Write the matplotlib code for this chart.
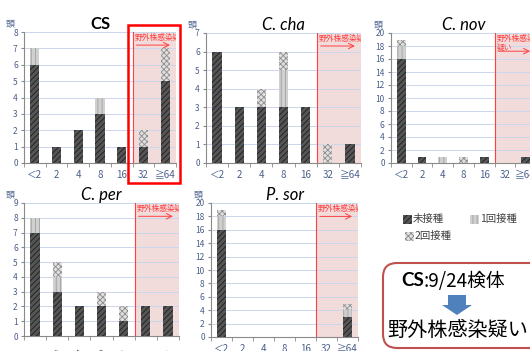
import matplotlib
matplotlib.use("Agg")
import matplotlib.pyplot as plt
from matplotlib.patches import Rectangle, FancyBboxPatch, FancyArrow

plt.rcParams['font.family'] = ['Noto Sans CJK JP', 'DejaVu Sans']
plt.rcParams['hatch.linewidth'] = 0.6

# MIC categories
categories = ['＜2', '2', '4', '8', '16', '32', '≧64']

# head counts per panel: 未接種 / 1回接種 / 2回接種
cs_none = [6, 1, 2, 3, 1, 1, 5]
cs_once = [1, 0, 0, 1, 0, 0, 0]
cs_twice = [0, 0, 0, 0, 0, 1, 2]

cha_none = [6, 3, 3, 3, 3, 0, 1]
cha_once = [0, 0, 0, 2, 0, 0, 0]
cha_twice = [0, 0, 1, 1, 0, 1, 0]

nov_none = [16, 1, 0, 0, 1, 0, 1]
nov_once = [2, 0, 1, 0, 0, 0, 0]
nov_twice = [1, 0, 0, 1, 0, 0, 0]

per_none = [7, 3, 2, 2, 1, 2, 2]
per_once = [1, 1, 0, 0, 0, 0, 0]
per_twice = [0, 1, 0, 1, 1, 0, 0]

sor_none = [16, 0, 0, 0, 0, 0, 3]
sor_once = [2, 0, 0, 0, 0, 0, 1]
sor_twice = [1, 0, 0, 0, 0, 0, 1]

W, H = 530, 351
fig = plt.figure(figsize=(W / 100, H / 100), dpi=100)

tick_col = '#4a5f8a'
red = '#ff4040'
styles = [
    dict(facecolor='#555555', edgecolor='#1e1e1e', hatch='//////'),
    dict(facecolor='#d0d0d0', edgecolor='#a0a0a0', hatch='||||'),
    dict(facecolor='#e0e0e0', edgecolor='#8c8c8c', hatch='xxxxxx'),
]


def px_rect(left, top, right, bottom):
    return [left / W, 1 - bottom / H, (right - left) / W, (bottom - top) / H]


def panel(rect, title, bold, ymax, ystep, series, label_text, cut_labels=False):
    ax = fig.add_axes(px_rect(*rect))
    x = list(range(len(categories)))
    ax.axvspan(4.5, 7, color='#f2dcdb', zorder=0, lw=0)
    ax.axvline(4.5, color=red, lw=0.8, zorder=1)
    bottom = [0] * len(categories)
    for vals, st in zip(series, styles):
        ax.bar(x, vals, 0.42, bottom=bottom, linewidth=0, zorder=3, **st)
        bottom = [b + v for b, v in zip(bottom, vals)]
    ax.set_xlim(-0.5, 6.5)
    ax.set_ylim(0, ymax)
    ax.set_yticks(range(0, ymax + 1, ystep))
    ax.yaxis.grid(True, color='#c9d6ec', lw=0.7, zorder=1)
    ax.set_axisbelow(True)
    for s in ['top', 'right']:
        ax.spines[s].set_visible(False)
    for s in ['left', 'bottom']:
        ax.spines[s].set_color('#8a8a8a')
        ax.spines[s].set_linewidth(0.8)
    ax.set_xticks(x)
    ax.set_xticks([i - 0.5 for i in range(8)], minor=True)
    ax.tick_params(axis='x', which='major', length=0, labelsize=7, labelcolor=tick_col,
                   pad=9 if cut_labels else 5)
    ax.tick_params(axis='x', which='minor', length=3, color='#8a8a8a')
    ax.tick_params(axis='y', length=2.5, color='#8a8a8a', labelsize=6, labelcolor=tick_col, pad=2)
    if cut_labels:
        ax.set_xticklabels(categories, rotation=45, ha='right', va='top', rotation_mode='anchor')
    else:
        ax.set_xticklabels(categories)
    ax.set_title(title, fontsize=12, fontweight='bold' if bold else 'normal',
                 style='normal' if bold else 'italic', family=['Lato', 'DejaVu Sans'], pad=2)
    ax.text(-0.06, 1.03, '頭', transform=ax.transAxes, fontsize=6.5, color=tick_col,
            ha='right', va='bottom')
    tr = ax.get_xaxis_transform()
    ax.text(4.6, 0.985, label_text, transform=tr, fontsize=5.6, color=red,
            ha='left', va='top', clip_on=True, zorder=5, linespacing=1.1)
    ay = 0.86 if '\n' in label_text else 0.9
    ax.annotate('', xy=(6.35, ay), xytext=(4.55, ay), xycoords=tr,
                arrowprops=dict(arrowstyle='->', color=red, lw=0.7), zorder=5)
    return ax


panel((24, 32, 176, 163), 'CS', True, 8, 1, [cs_none, cs_once, cs_twice], '野外株感染疑い')
panel((206, 33, 361, 163), 'C. cha', False, 7, 1, [cha_none, cha_once, cha_twice], '野外株感染疑い')
panel((391, 33, 536, 163), 'C. nov', False, 20, 2, [nov_none, nov_once, nov_twice], '野外株感染\n疑い')
panel((24, 203, 179, 336), 'C. per', False, 9, 1, [per_none, per_once, per_twice], '野外株感染疑い',
      cut_labels=True)
panel((211, 203, 358, 337), 'P. sor', False, 20, 2, [sor_none, sor_once, sor_twice], '野外株感染疑い')

# overlay for annotations in pixel coordinates
ov = fig.add_axes([0, 0, 1, 1], facecolor='none')
ov.set_xlim(0, W)
ov.set_ylim(H, 0)
ov.axis('off')

ov.add_patch(Rectangle((128, 25), 52, 158, fill=False, edgecolor='#ff0000', lw=1.8))

# legend
legend_items = [('未接種', 403, 219), ('1回接種', 470, 219), ('2回接種', 405, 236)]
for (lab, lx, ly), st in zip(legend_items, styles):
    ov.add_patch(Rectangle((lx, ly - 4.5), 9, 9, linewidth=0, **st))
    ov.text(lx + 10, ly, lab, fontsize=7.5, va='center', ha='left', color='#404040')

# conclusion box
ov.add_patch(FancyBboxPatch((383, 263), 160, 85, boxstyle='round,pad=0,rounding_size=14',
                            fill=False, edgecolor='#c0504d', lw=1.5, clip_on=False))
ov.text(424, 281, 'CS', fontsize=13.5, fontweight='bold', ha='right', va='center',
        family=['Lato', 'DejaVu Sans'])
ov.text(424, 281, ':9/24検体', fontsize=13.5, ha='left', va='center')
ov.add_patch(FancyArrow(457, 295, 0, 20, width=18, head_width=30, head_length=10,
                        length_includes_head=True, color='#4f81bd', lw=0))
ov.text(458, 330, '野外株感染疑い', fontsize=14.5, ha='center', va='center')

fig.savefig('out.png', dpi=100)
